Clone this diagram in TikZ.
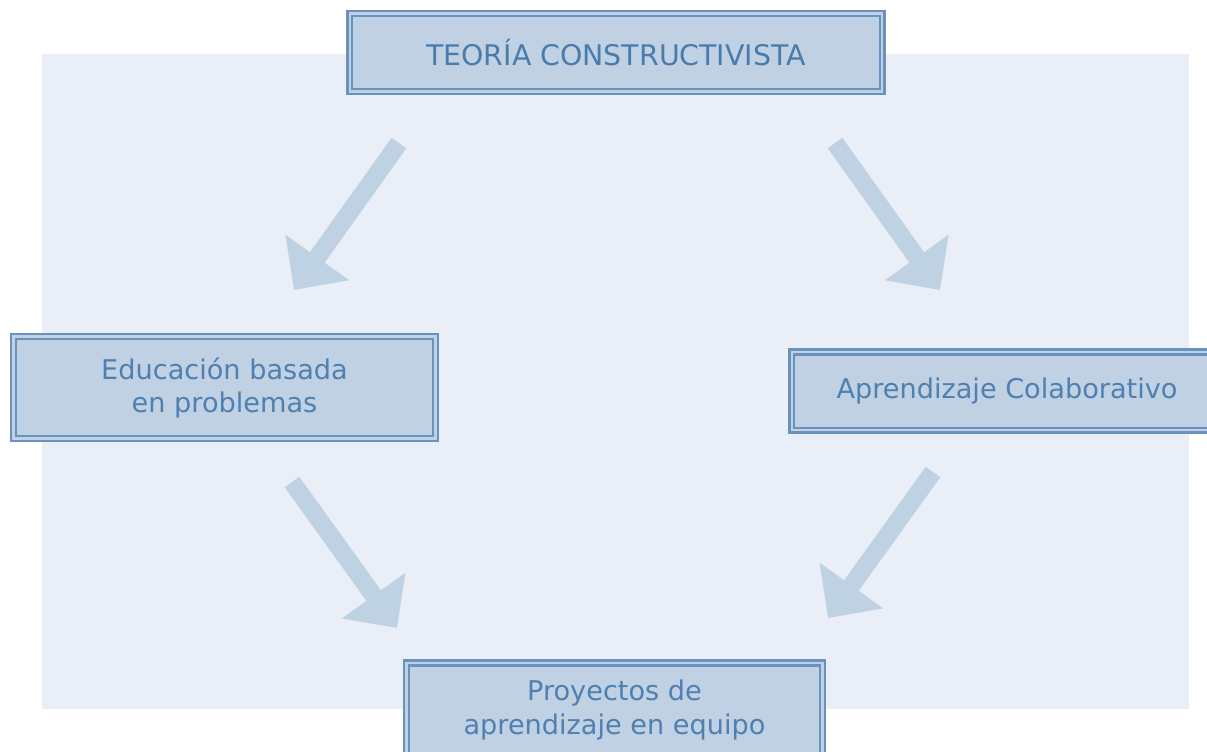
\documentclass[tikz,border=0pt]{standalone}
\usepackage{fontspec}
\setmainfont{DejaVu Sans}
\usepackage{tikz}
\usetikzlibrary{arrows.meta}

\definecolor{panelbg}{HTML}{EAEFF7}
\definecolor{boxfill}{HTML}{BFD1E3}
\definecolor{boxline}{HTML}{6893BF}
\definecolor{textblue}{HTML}{4F80B2}
\definecolor{titleblue}{HTML}{4A7BAD}
\definecolor{arrowfill}{HTML}{BFD2E4}

\tikzset{
  conceptbox/.style={draw=boxline, double=boxfill, double distance=2pt, line width=1.5pt,
    fill=boxfill, text=textblue, align=center, inner sep=0pt,
    font=\fontsize{19.3}{23.5}\selectfont},
  bigarrow/.style={draw=arrowfill, line width=0.45cm, line cap=butt,
    -{Triangle[length=1cm, width=1.9cm]}}
}

\begin{document}
\begin{tikzpicture}[x=0.025cm, y=-0.025cm]
    \clip (0,0) rectangle (1207,751);
    \useasboundingbox (0,0) rectangle (1207,751);
    \fill[panelbg] (42,54) rectangle (1189,709);

    % arrows
    \coordinate (a1s) at (399,143);  \coordinate (a1e) at (294,290);
    \coordinate (a2s) at (835,143);  \coordinate (a2e) at (940,290);
    \coordinate (a3s) at (292,482);  \coordinate (a3e) at (397,628);
    \coordinate (a4s) at (933,472);  \coordinate (a4e) at (828,618);
    \draw[bigarrow] (a1s) -- (a1e);
    \draw[bigarrow] (a2s) -- (a2e);
    \draw[bigarrow] (a3s) -- (a3e);
    \draw[bigarrow] (a4s) -- (a4e);

    % boxes
    \node[conceptbox, minimum width=13.3cm, minimum height=1.93cm, text=titleblue,
          font=\fontsize{20.2}{24}\selectfont] (teoria) at (616,52.5)
          {TEORÍA CONSTRUCTIVISTA};
    \node[conceptbox, minimum width=10.55cm, minimum height=2.55cm] (ebp) at (224.5,387.5)
          {Educación basada\\en problemas};
    \node[conceptbox, minimum width=10.75cm, minimum height=1.95cm] (colab) at (1007,391)
          {Aprendizaje Colaborativo};
    \node[conceptbox, minimum width=10.4cm, minimum height=2.35cm] (proy) at (614.5,710)
          {Proyectos de\\aprendizaje en equipo};
\end{tikzpicture}
\end{document}
